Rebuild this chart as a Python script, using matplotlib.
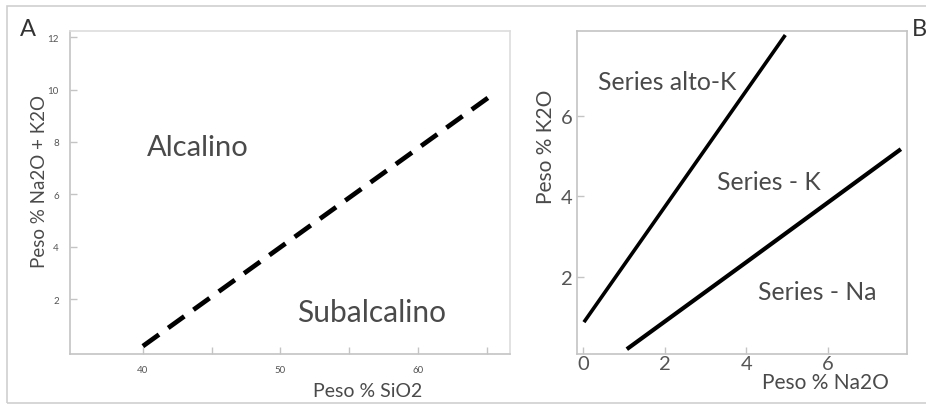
import matplotlib
matplotlib.use("Agg")
import matplotlib.pyplot as plt
from matplotlib.patches import Rectangle
from matplotlib.ticker import FixedLocator

plt.rcParams['font.family'] = ['Lato', 'DejaVu Sans']

# Panel A data
a_line_x = [40.0, 65.4]
a_line_y = [0.2, 9.8]
a_xticks = [40, 50, 60]
a_xminor = [45, 55, 65]
a_yticks = [2, 4, 6, 8, 10, 12]

# Panel B data
b_line1_x = [0.02, 4.95]
b_line1_y = [0.88, 8.0]
b_line2_x = [1.07, 4.0, 7.78]
b_line2_y = [0.21, 2.37, 5.17]
b_xticks = [0, 2, 4, 6]
b_yticks = [2, 4, 6]

TXT = '#4a4a4a'
SPINE = '#c4c4c4'

W, H = 926, 406
fig = plt.figure(figsize=(W/100, H/100), dpi=100)

def px_axes(l, r, t, b):
    return fig.add_axes([l/W, 1 - b/H, (r-l)/W, (b-t)/H])

# frame
fig.patches.append(Rectangle((7/W, 2/H), 1.2, (H-9)/H, transform=fig.transFigure,
                             fill=False, edgecolor='#cfcfcf', lw=1.2))

# ---- Panel A ----
axA = px_axes(70, 510, 32, 355)
axA.plot(a_line_x, a_line_y, color='black', lw=3.4, dashes=(4.2, 2.4), solid_capstyle='butt')
axA.set_xlim(34.7, 66.7)
axA.set_ylim(-0.1, 12.24)
axA.set_xticks(a_xticks)
axA.xaxis.set_minor_locator(FixedLocator(a_xminor))
axA.set_yticks(a_yticks)
axA.tick_params(axis='both', which='both', direction='in', length=5, width=1,
                color=SPINE, labelsize=7, labelcolor='#555555')
axA.tick_params(axis='x', pad=8)
axA.tick_params(axis='y', pad=8)
for s in axA.spines.values():
    s.set_color(SPINE)
    s.set_linewidth(1.2)
axA.spines['top'].set_color('#dddddd')
axA.spines['right'].set_color('#dddddd')
axA.set_xlabel('Peso % SiO2', fontsize=14, color=TXT)
axA.xaxis.set_label_coords((368-70)/440, -(383-355)/323)
axA.set_ylabel('Peso % Na2O + K2O', fontsize=13.5, color=TXT)
axA.yaxis.set_label_coords(-(70-48)/440, (355-182)/323)
axA.text(40.3, 7.8, 'Alcalino', fontsize=21, color=TXT, va='center', ha='left')
axA.text(51.2, 1.5, 'Subalcalino', fontsize=21.5, color=TXT, va='center', ha='left')
fig.text(20/W, 1 - 29/H, 'A', fontsize=17, color='#333333', va='center', ha='left')

# ---- Panel B ----
axB = px_axes(577, 907, 32, 355)
axB.plot(b_line1_x, b_line1_y, color='black', lw=2.6, solid_capstyle='butt')
axB.plot(b_line2_x, b_line2_y, color='black', lw=3.0, solid_capstyle='butt')
axB.set_xlim(-0.15, 7.93)
axB.set_ylim(0.09, 8.1)
axB.set_xticks(b_xticks)
axB.set_yticks(b_yticks)
axB.tick_params(axis='both', which='both', direction='in', length=5, width=1,
                color=SPINE, labelsize=14.5, labelcolor='#555555')
axB.tick_params(axis='x', pad=1)
axB.tick_params(axis='y', pad=3)
for s in axB.spines.values():
    s.set_color(SPINE)
    s.set_linewidth(1.2)
axB.set_xlabel('Peso % Na2O', fontsize=15, color=TXT)
axB.xaxis.set_label_coords((825-577)/330, -(373-355)/323)
axB.set_ylabel('Peso % K2O', fontsize=15, color=TXT)
axB.yaxis.set_label_coords(-(577-556)/330, (355-147)/323)
axB.text(0.37, 6.84, 'Series alto-K', fontsize=17.8, color=TXT, va='center', ha='left')
axB.text(3.27, 4.38, 'Series - K', fontsize=17.8, color=TXT, va='center', ha='left')
axB.text(4.29, 1.63, 'Series - Na', fontsize=17.8, color=TXT, va='center', ha='left')
fig.text(912/W, 1 - 29/H, 'B', fontsize=17, color='#333333', va='center', ha='left')

fig.savefig('out.png', dpi=100)
